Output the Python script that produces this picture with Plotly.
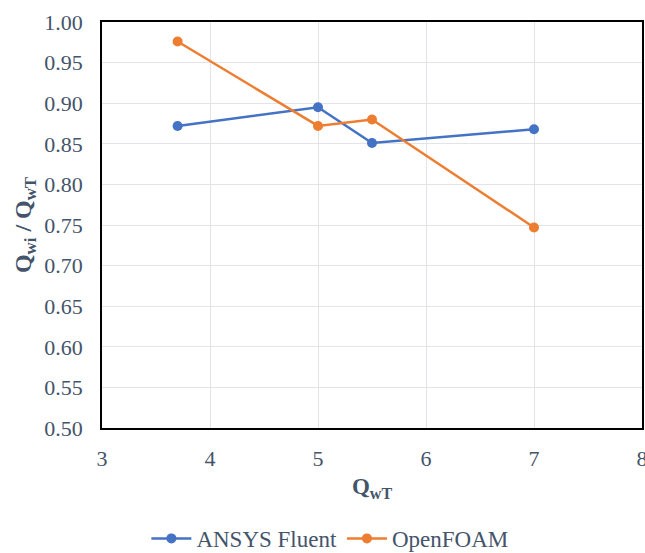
import plotly.graph_objects as go

ansys_x = [3.7, 5.0, 5.5, 7.0]
ansys_y = [0.872, 0.895, 0.851, 0.868]
foam_x = [3.7, 5.0, 5.5, 7.0]
foam_y = [0.976, 0.872, 0.880, 0.747]

x_ticks = [3, 4, 5, 6, 7, 8]
y_ticks = [0.50, 0.55, 0.60, 0.65, 0.70, 0.75, 0.80, 0.85, 0.90, 0.95, 1.00]

font_family = "Liberation Serif"
tick_color = "#44546A"

fig = go.Figure()
fig.add_trace(go.Scatter(x=ansys_x, y=ansys_y, mode="lines+markers", name="ANSYS Fluent",
                         line=dict(color="#4472C4", width=2.5),
                         marker=dict(color="#4472C4", size=10)))
fig.add_trace(go.Scatter(x=foam_x, y=foam_y, mode="lines+markers", name="OpenFOAM",
                         line=dict(color="#ED7D31", width=2.5),
                         marker=dict(color="#ED7D31", size=10)))

fig.update_layout(
    width=645, height=553,
    margin=dict(l=102, r=3, t=22, b=125, autoexpand=False),
    paper_bgcolor="white", plot_bgcolor="white",
    font=dict(family=font_family, color=tick_color, size=22),
    showlegend=True,
    legend=dict(orientation="h", x=0.422, xanchor="center", y=-0.272, yanchor="middle",
                font=dict(size=23, color=tick_color, family=font_family), itemwidth=40),
)
fig.update_xaxes(range=[3, 8], tickvals=x_ticks, ticktext=[str(v) for v in x_ticks],
                 showgrid=True, gridcolor="#E3E3EA", gridwidth=1,
                 showline=True, linecolor="black", linewidth=1.5, mirror=True,
                 zeroline=False, ticks="", ticklen=0, ticklabelstandoff=10,
                 ticklabeloverflow="allow",
                 tickfont=dict(size=22, color=tick_color, family=font_family),
                 title=dict(text="<b>Q<sub>wT</sub></b>", font=dict(size=23, color=tick_color, family=font_family), standoff=8))
fig.update_yaxes(range=[0.5, 1.0], tickvals=y_ticks, ticktext=[f"{v:.2f}" for v in y_ticks],
                 showgrid=True, gridcolor="#E3E3EA", gridwidth=1,
                 showline=True, linecolor="black", linewidth=1.5, mirror=True,
                 zeroline=False, ticks="", ticklen=0, ticklabelstandoff=13,
                 tickfont=dict(size=22, color=tick_color, family=font_family),
                 title=dict(text="<b>Q<sub>wi</sub> / Q<sub>wT</sub></b>", font=dict(size=24, color=tick_color, family=font_family), standoff=6))

fig.write_html("out.html")
